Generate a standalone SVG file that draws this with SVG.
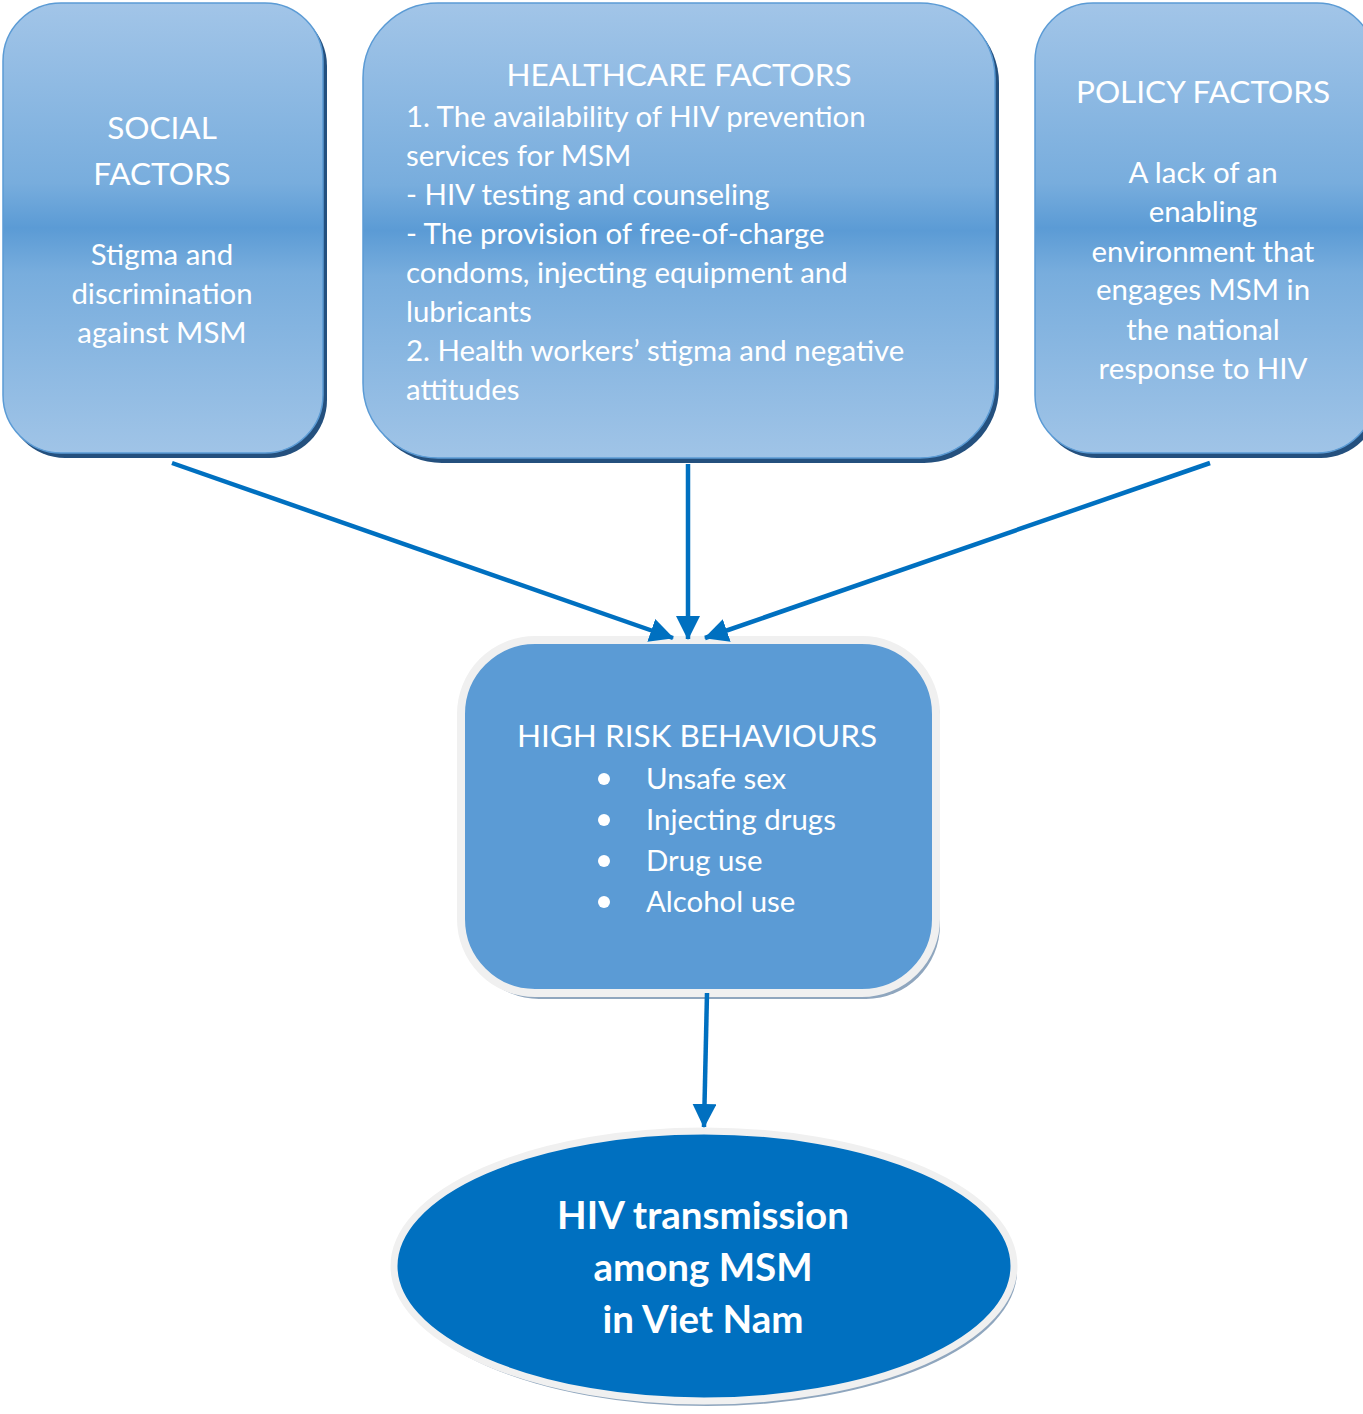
<svg xmlns="http://www.w3.org/2000/svg" width="1363" height="1414" viewBox="0 0 1363 1414">
<defs>
<linearGradient id="g" x1="0" y1="0" x2="0" y2="1">
<stop offset="0" stop-color="#A2C5E8"/>
<stop offset="0.4" stop-color="#78ADDD"/>
<stop offset="0.5" stop-color="#5B9BD5"/>
<stop offset="0.6" stop-color="#78ADDD"/>
<stop offset="1" stop-color="#A0C4E7"/>
</linearGradient>
<marker id="ah" viewBox="0 0 24 24" refX="23" refY="12" markerWidth="24" markerHeight="24" markerUnits="userSpaceOnUse" orient="auto">
<path d="M0,0 L24,12 L0,24 z" fill="#0070C0"/>
</marker>
<style>
.box{fill:url(#g);stroke:#5B9BD5;stroke-width:1.5}
.sh{fill:#24507E}
.t{font-family:Lato,"Liberation Sans",sans-serif;fill:#fff}
.title{font-size:31.5px}
.body{font-size:29.4px}
.c{text-anchor:middle}
.conn line{stroke:#0070C0;stroke-width:4.5;fill:none;marker-end:url(#ah)}
</style>
</defs>

<g id="social">
<rect class="sh" x="7" y="8" width="320" height="450" rx="58"/>
<rect class="box" x="3" y="3" width="320" height="450" rx="58"/>
<text class="t title c" x="162" y="139">SOCIAL</text>
<text class="t title c" x="162" y="185">FACTORS</text>
<text class="t body c" x="162" y="265">Stigma and</text>
<text class="t body c" x="162" y="304">discrimination</text>
<text class="t body c" x="162" y="343">against MSM</text>
</g>

<g id="healthcare">
<rect class="sh" x="367" y="8" width="632" height="455" rx="75"/>
<rect class="box" x="363" y="3" width="632" height="455" rx="75"/>
<text class="t title c" x="679" y="86">HEALTHCARE FACTORS</text>
<text class="t body" x="406" y="127">1. The availability of HIV prevention</text>
<text class="t body" x="406" y="166">services for MSM</text>
<text class="t body" x="406" y="205">- HIV testing and counseling</text>
<text class="t body" x="406" y="244">- The provision of free-of-charge</text>
<text class="t body" x="406" y="283">condoms, injecting equipment and</text>
<text class="t body" x="406" y="322">lubricants</text>
<text class="t body" x="406" y="361">2. Health workers’ stigma and negative</text>
<text class="t body" x="406" y="400">attitudes</text>
</g>

<g id="policy">
<rect class="sh" x="1039" y="8" width="340" height="450" rx="58"/>
<rect class="box" x="1035" y="3" width="340" height="450" rx="58"/>
<text class="t title c" x="1203" y="103">POLICY FACTORS</text>
<text class="t body c" x="1203" y="183">A lack of an</text>
<text class="t body c" x="1203" y="222">enabling</text>
<text class="t body c" x="1203" y="262">environment that</text>
<text class="t body c" x="1203" y="300">engages MSM in</text>
<text class="t body c" x="1203" y="340">the national</text>
<text class="t body c" x="1203" y="379">response to HIV</text>
</g>

<g id="behaviours">
<rect x="465" y="646" width="475" height="353" rx="74" fill="#8FA6BE"/>
<rect x="461" y="640" width="475" height="353" rx="74" fill="#5B9BD5" stroke="#F0F0F0" stroke-width="8"/>
<text class="t title c" x="697" y="747">HIGH RISK BEHAVIOURS</text>
<circle cx="604" cy="779" r="6" fill="#fff"/>
<circle cx="604" cy="820" r="6" fill="#fff"/>
<circle cx="604" cy="861" r="6" fill="#fff"/>
<circle cx="604" cy="902" r="6" fill="#fff"/>
<text class="t body" x="646" y="789">Unsafe sex</text>
<text class="t body" x="646" y="830">Injecting drugs</text>
<text class="t body" x="646" y="871">Drug use</text>
<text class="t body" x="646" y="912">Alcohol use</text>
</g>

<g id="hiv">
<ellipse cx="707" cy="1271" rx="310" ry="135" fill="#8FA6BE"/>
<ellipse cx="704" cy="1266" rx="310" ry="135" fill="#0070C0" stroke="#F0F0F0" stroke-width="7"/>
<text class="t c" x="703" y="1229" font-size="38.5" font-weight="bold">HIV transmission</text>
<text class="t c" x="703" y="1281" font-size="38.5" font-weight="bold">among MSM</text>
<text class="t c" x="703" y="1333" font-size="38.5" font-weight="bold">in Viet Nam</text>
</g>

<g id="connectors" class="conn">
<line x1="172" y1="463" x2="673" y2="638"/>
<line x1="688" y1="464" x2="688" y2="639"/>
<line x1="1210" y1="463" x2="705" y2="638"/>
<line x1="707" y1="993" x2="704" y2="1127"/>
</g>
</svg>
